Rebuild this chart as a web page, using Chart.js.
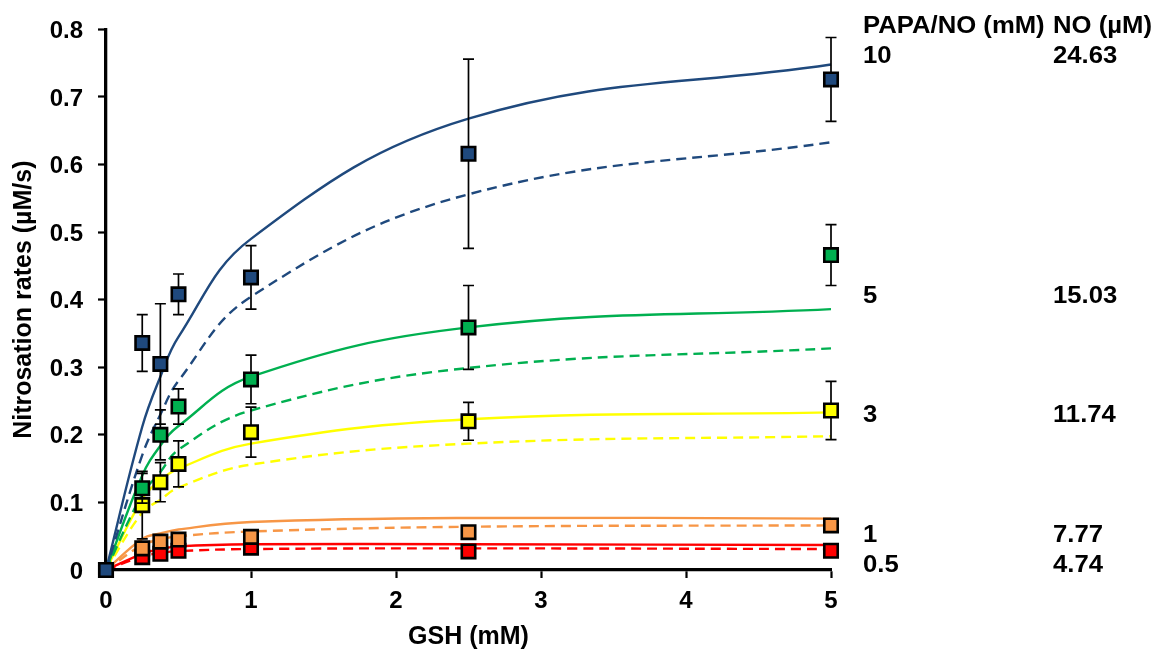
<!DOCTYPE html>
<html>
<head>
<meta charset="utf-8">
<script src="https://cdn.jsdelivr.net/npm/chart.js@4.4.1/dist/chart.umd.min.js"></script>
<style>
  html, body { margin: 0; padding: 0; background: #ffffff; }
  canvas { display: block; }
</style>
</head>
<body>
<canvas id="chart" width="1155" height="652"></canvas>
<script>
// GSH concentrations (mM)
const gsh = [0, 0.25, 0.375, 0.5, 1, 2.5, 5];

// Measured nitrosation rates (µM/s) and their error bars
const rate10 = [0, 0.336, 0.305, 0.408, 0.433, 0.616, 0.726];
const err10  = [0, 0.042, 0.089, 0.030, 0.047, 0.140, 0.062];
const rate5  = [0, 0.121, 0.200, 0.242, 0.282, 0.359, 0.466];
const err5   = [0, 0.022, 0.037, 0.026, 0.036, 0.062, 0.045];
const rate3  = [0, 0.096, 0.130, 0.157, 0.204, 0.220, 0.236];
const err3   = [0, 0.050, 0.029, 0.034, 0.037, 0.028, 0.043];
const rate1  = [0, 0.032, 0.042, 0.045, 0.049, 0.056, 0.066];
const rate05 = [0, 0.019, 0.024, 0.0285, 0.033, 0.0275, 0.0285];

// Model curves (solid) and alternative model curves (dashed)
const fit10  = [0, 0.212, 0.286, 0.345, 0.490, 0.668, 0.748];
const alt10  = [0, 0.170, 0.230, 0.280, 0.4045, 0.556, 0.633];
const fit5   = [0, 0.140, 0.184, 0.213, 0.286, 0.359, 0.386];
const alt5   = [0, 0.112, 0.145, 0.178, 0.236, 0.299, 0.328];
const fit3   = [0, 0.105, 0.133, 0.150, 0.187, 0.223, 0.2333];
const alt3   = [0, 0.085, 0.104, 0.122, 0.156, 0.187, 0.198];
const fit1   = [0, 0.046, 0.054, 0.060, 0.071, 0.077, 0.076];
const alt1   = [0, 0.037, 0.045, 0.050, 0.057, 0.064, 0.066];
const fit05  = [0, 0.024, 0.031, 0.035, 0.038, 0.038, 0.037];
const alt05  = [0, 0.020, 0.025, 0.028, 0.031, 0.032, 0.031];

// Side table: PAPA/NO dose and resulting NO
const papaDose = ['10', '5', '3', '1', '0.5'];
const noConc   = ['24.63', '15.03', '11.74', '7.77', '4.74'];

// Axis tick labels
const xTickLabels = ['0', '1', '2', '3', '4', '5'];
const yTickLabels = ['0', '0.1', '0.2', '0.3', '0.4', '0.5', '0.6', '0.7', '0.8'];

const FONT = "'Liberation Sans', Arial, sans-serif";
const COLORS = {
  c10: '#1F497D',
  c5:  '#00B050',
  c3:  '#FFFF00',
  c1:  '#F79646',
  c05: '#FF0000'
};

const pts = (ys) => gsh.map((x, i) => ({ x: x, y: ys[i] }));

function markers(label, ys, errs, color) {
  return {
    label: label,
    data: pts(ys),
    errors: errs,
    showLine: false,
    pointStyle: 'rect',
    pointRadius: 9.5,
    pointHoverRadius: 9.5,
    pointBackgroundColor: color,
    pointBorderColor: '#000000',
    pointBorderWidth: 2.6,
    clip: false
  };
}

function curve(label, ys, color, dashed) {
  return {
    label: label,
    data: pts(ys),
    showLine: true,
    borderColor: color,
    borderWidth: 2.4,
    borderDash: dashed ? [10, 6] : [],
    pointRadius: 0,
    pointHoverRadius: 0,
    tension: 0.4,
    fill: false,
    clip: false
  };
}

// Vertical error bars, drawn just below each marker set
const errorBars = {
  id: 'errorBars',
  beforeDatasetDraw(chart, args) {
    const ds = chart.data.datasets[args.index];
    if (!ds.errors) return;
    const xs = chart.scales.x, ys = chart.scales.y;
    const ctx = chart.ctx;
    ctx.save();
    ctx.strokeStyle = '#000000';
    ctx.lineWidth = 1.7;
    ctx.setLineDash([]);
    ds.data.forEach((p, i) => {
      const e = ds.errors[i];
      if (!e) return;
      const px = xs.getPixelForValue(p.x);
      const top = ys.getPixelForValue(p.y + e);
      const bot = ys.getPixelForValue(p.y - e);
      ctx.beginPath();
      ctx.moveTo(px, top); ctx.lineTo(px, bot);
      ctx.moveTo(px - 5.5, top); ctx.lineTo(px + 5.5, top);
      ctx.moveTo(px - 5.5, bot); ctx.lineTo(px + 5.5, bot);
      ctx.stroke();
    });
    ctx.restore();
  }
};

// Table of doses and NO levels to the right of the plot
const sideTable = {
  id: 'sideTable',
  afterDraw(chart) {
    const ctx = chart.ctx;
    const col1 = 863, col2 = 1053;
    const headerBase = 33;
    const rowBase = [63, 303, 422, 542, 572];
    const stretch = 1.07;
    const put = (txt, x, y) => {
      ctx.save();
      ctx.translate(x, y);
      ctx.scale(stretch, 1);
      ctx.fillText(txt, 0, 0);
      ctx.restore();
    };
    ctx.save();
    ctx.fillStyle = '#000000';
    ctx.font = 'bold 24px ' + FONT;
    ctx.textAlign = 'left';
    ctx.textBaseline = 'alphabetic';
    put('PAPA/NO (mM)', col1, headerBase);
    put('NO (\u00B5M)', col2, headerBase);
    papaDose.forEach((d, i) => {
      put(d, col1, rowBase[i]);
      put(noConc[i], col2, rowBase[i]);
    });
    ctx.restore();
  }
};

Chart.defaults.color = '#000000';

new Chart(document.getElementById('chart'), {
  type: 'scatter',
  data: {
    datasets: [
      markers('10 mM', rate10, err10, COLORS.c10),
      markers('5 mM', rate5, err5, COLORS.c5),
      markers('3 mM', rate3, err3, COLORS.c3),
      markers('1 mM', rate1, null, COLORS.c1),
      markers('0.5 mM', rate05, null, COLORS.c05),
      curve('10 mM fit', fit10, COLORS.c10, false),
      curve('10 mM alt', alt10, COLORS.c10, true),
      curve('5 mM fit', fit5, COLORS.c5, false),
      curve('5 mM alt', alt5, COLORS.c5, true),
      curve('3 mM fit', fit3, COLORS.c3, false),
      curve('3 mM alt', alt3, COLORS.c3, true),
      curve('1 mM fit', fit1, COLORS.c1, false),
      curve('1 mM alt', alt1, COLORS.c1, true),
      curve('0.5 mM fit', fit05, COLORS.c05, false),
      curve('0.5 mM alt', alt05, COLORS.c05, true)
    ]
  },
  options: {
    responsive: false,
    devicePixelRatio: 1,
    animation: false,
    events: [],
    layout: { padding: { left: 0, top: 20, right: 324, bottom: 0 } },
    plugins: {
      legend: { display: false },
      tooltip: { enabled: false }
    },
    scales: {
      x: {
        type: 'linear',
        min: 0,
        max: 5,
        afterFit(s) { s.height = 82; },
        border: { display: true, color: '#000000', width: 3.3 },
        grid: { display: true, drawOnChartArea: false, drawTicks: true, tickLength: 8, tickWidth: 2.2, color: '#000000' },
        ticks: {
          stepSize: 1,
          padding: 9,
          font: { family: FONT, size: 24, weight: 'bold' },
          callback: (v, i) => xTickLabels[i]
        },
        title: {
          display: true,
          text: 'GSH (mM)',
          font: { family: FONT, size: 25, weight: 'bold' },
          padding: { top: 0, bottom: 0 }
        }
      },
      y: {
        type: 'linear',
        min: 0,
        max: 0.8,
        afterFit(s) { s.width = 106; },
        border: { display: true, color: '#000000', width: 3.3 },
        grid: { display: true, drawOnChartArea: false, drawTicks: true, tickLength: 8, tickWidth: 2.2, color: '#000000' },
        ticks: {
          stepSize: 0.1,
          padding: 15,
          labelOffset: 2,
          font: { family: FONT, size: 24, weight: 'bold' },
          callback: (v, i) => yTickLabels[i]
        },
        title: {
          display: true,
          text: 'Nitrosation rates (\u00B5M/s)',
          font: { family: FONT, size: 25, weight: 'bold' },
          padding: { top: 9, bottom: 0 }
        }
      }
    }
  },
  plugins: [errorBars, sideTable]
});
</script>
</body>
</html>
